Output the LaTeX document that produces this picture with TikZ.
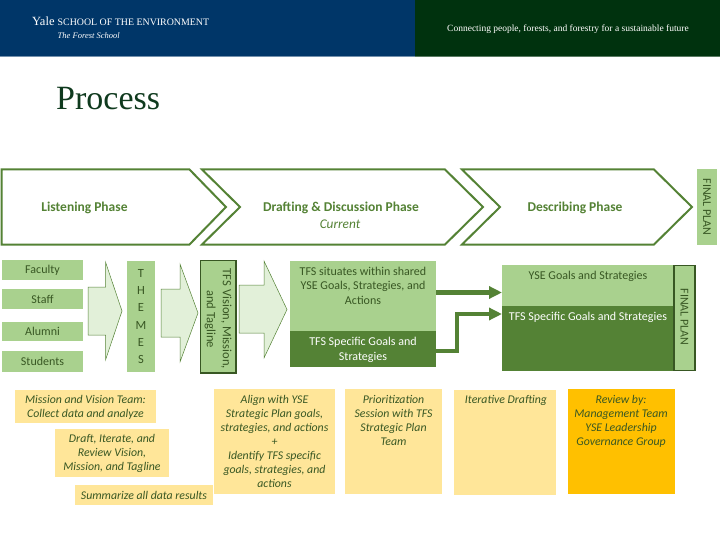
\documentclass[tikz,border=0pt]{standalone}
\usepackage{fontspec}
\setmainfont{Carlito}
\newfontfamily\headfont{Liberation Serif}
\usetikzlibrary{arrows.meta}
\definecolor{navy}{HTML}{003668}
\definecolor{forest}{HTML}{00320E}
\definecolor{titlegreen}{HTML}{0F3A1E}
\definecolor{leaf}{HTML}{A9D18E}
\definecolor{moss}{HTML}{548235}
\definecolor{mossdark}{HTML}{385723}
\definecolor{pale}{HTML}{E2F0D9}
\definecolor{sand}{HTML}{FFE699}
\definecolor{amber}{HTML}{FFC000}
% Box given by its corners: style, name, x1, y1, x2, y2, text
\newcommand{\cornerbox}[7]{%
  \node[#1,minimum width={(#5-#3)*1pt},minimum height={(#6-#4)*1pt}]
    (#2) at ({(#3+#5)/2},{(#4+#6)/2}) {#7};}
% Phase chevron: left x, shoulder x, tip x, optional notch segment
\newcommand{\chevron}[4]{%
  \draw[phase] (#1,169.5) -- (#2,169.5) -- (#3,207) -- (#2,244.5) -- (#1,244.5)
    #4 -- cycle;}
% Block arrow: tail x, tail top, tail bottom, head x, head top, head bottom, tip x
\newcommand{\blockarrow}[7]{%
  \draw[block] (#1,#2) -- (#4,#2) -- (#4,#5) -- (#7,{(#5+#6)/2}) -- (#4,#6)
    -- (#4,#3) -- (#1,#3) -- cycle;}
\tikzset{
  x=1pt,y=-1pt,
  box/.style={inner sep=0pt,outer sep=0pt,text=mossdark,font=\fontsize{12}{14.8}\selectfont,align=center},
  tag/.style={box,fill=leaf},
  framed/.style={box,fill=leaf,draw=mossdark,line width=1.5pt},
  darkbox/.style={box,fill=moss,text=white},
  note/.style={box,fill=sand,font=\fontsize{11.8}{14}\selectfont\itshape},
  hotnote/.style={note,fill=amber},
  captext/.style={inner sep=0pt,text=mossdark,font=\fontsize{12}{14.8}\selectfont,align=center},
  notecap/.style={inner sep=0pt,text=mossdark,font=\fontsize{11.8}{14}\selectfont\itshape,align=center},
  whitecap/.style={captext,text=white},
  phase/.style={draw=moss,line width=2pt,fill=white,miter limit=10},
  phasetext/.style={inner sep=0pt,text=moss,font=\fontsize{13.5}{15}\selectfont\bfseries,align=center},
  block/.style={draw=moss,line width=0.5pt,fill=pale},
  link/.style={draw=moss,line width=4.5pt,-{Triangle[length=13pt,width=12pt]}},
  bandtext/.style={inner sep=0pt,text=white},
}
\begin{document}
\begin{tikzpicture}
\useasboundingbox (0,0) rectangle (720,540);
% Header bands
\fill[navy] (0,0) rectangle (415,56);
\fill[forest] (415,0) rectangle (720,56);
\fill[navy!55!white] (0,56) rectangle (415,57);
\fill[forest!65!white] (415,56) rectangle (720,57);
\node[bandtext,anchor=base west] (school) at (32,25.5) {\headfont\fontsize{12.5}{14}\selectfont Yale \fontsize{9.9}{14}\selectfont SCHOOL OF THE ENVIRONMENT};
\node[bandtext,anchor=base west] (forestschool) at (57.5,38.5) {\headfont\fontsize{8.5}{12}\selectfont\itshape The Forest School};
\node[bandtext,anchor=base west] (tagline) at (447,31.5) {\headfont\fontsize{9.5}{12}\selectfont Connecting people, forests, and forestry for a sustainable future};
\node[inner sep=0pt,anchor=base west,text=titlegreen,font=\headfont\fontsize{34}{38}\selectfont] (title) at (56,110) {Process};

% Phase chevrons
\chevron{1.5}{189.5}{226}{}
\chevron{202}{445}{483}{-- (240,207)}
\chevron{462}{654}{692}{-- (500,207)}
\node[phasetext] (listening) at (84.5,207.5) {Listening Phase};
\node[phasetext] (drafting) at (341,207.5) {Drafting \& Discussion Phase};
\node[inner sep=0pt,text=moss,font=\fontsize{13.3}{15}\selectfont\itshape] (current) at (340,224) {Current};
\node[phasetext] (describing) at (575,207.5) {Describing Phase};
\cornerbox{tag}{finaltop}{697}{169}{717}{244.5}{}
\node[captext,rotate=-90] (finaltoptext) at (707,207) {FINAL PLAN};

% Constituent groups
\cornerbox{tag}{faculty}{2}{260}{83}{280}{\raisebox{-1pt}{Faculty}}
\cornerbox{tag}{staff}{2}{289}{83}{309}{\raisebox{-1pt}{Staff}}
\cornerbox{tag}{alumni}{2}{322}{83}{341}{\raisebox{-1pt}{Alumni}}
\cornerbox{tag}{students}{2}{351}{83}{372}{\raisebox{-1pt}{Students}}
\blockarrow{88}{287}{335}{105.5}{262}{360}{122}
\node[tag,minimum width=28.5pt,minimum height=111pt,font=\fontsize{12.5}{17.3}\selectfont] (themes) at (141,316.5) {T\\H\\E\\M\\E\\S};
\blockarrow{161}{289}{337}{180}{264}{362}{198}
\cornerbox{framed}{vision}{200.5}{260.5}{236}{373}{}
\node[captext,rotate=-90,font=\fontsize{12.6}{16}\selectfont] (visiontext) at (218,319) {TFS Vision, Mission,\\and Tagline};
\blockarrow{239}{285}{333}{264}{261}{358}{287}

% Shared and specific goals
\cornerbox{tag}{situates}{290}{261}{436}{331}{}
\node[captext,anchor=north] (situatestext) at (363,266.5) {TFS situates within shared\\YSE Goals, Strategies, and\\Actions};
\cornerbox{darkbox}{specific}{290}{331}{436}{366.5}{}
\node[whitecap] (specifictext) at (363,349.5) {TFS Specific Goals and\\Strategies};
\cornerbox{tag}{yse}{502}{265}{674}{306}{}
\node[captext,anchor=north] (ysetext) at (588,271) {YSE Goals and Strategies};
\cornerbox{darkbox}{tfsgoals}{502}{306}{674}{371}{}
\node[whitecap,anchor=north] (tfsgoalstext) at (588,311.5) {TFS Specific Goals and Strategies};
\cornerbox{framed}{finalside}{674}{265.5}{695}{370.5}{}
\node[captext,rotate=-90] (finalsidetext) at (684.5,317) {FINAL PLAN};

% Links between the goal blocks
\coordinate (sharedout) at (436,292.5);
\coordinate (sharedin) at (502,292.5);
\coordinate (specificout) at (436,351);
\coordinate (specificin) at (502,314);
\draw[link] (sharedout) -- (sharedin);
\draw[link] (specificout) -- (457,351) -- (457,314) -- (specificin);

% Activities under each phase
\cornerbox{note}{mission}{15}{390}{156}{423}{}
\node[notecap] (missiontext) at (85.5,407.5) {Mission and Vision Team:\\Collect data and analyze};
\cornerbox{note}{draft}{55}{429}{169}{477}{}
\node[notecap] (drafttext) at (112,453.5) {Draft, Iterate, and\\Review Vision,\\Mission, and Tagline};
\cornerbox{note}{summarize}{75}{485}{213}{505}{Summarize all data results}
\cornerbox{note}{align}{214}{389}{335}{494}{Align with YSE\\Strategic Plan goals,\\strategies, and actions\\+\\Identify TFS specific\\goals, strategies, and\\actions}
\cornerbox{note}{prioritize}{345}{389}{442}{494}{}
\node[notecap,anchor=north] (prioritizetext) at (393.5,395.5) {Prioritization\\Session with TFS\\Strategic Plan\\Team};
\cornerbox{note}{iterative}{454}{390}{556}{495}{}
\node[notecap,anchor=north] (iterativetext) at (506,395.5) {Iterative Drafting};
\cornerbox{hotnote}{review}{568}{389}{675}{494}{}
\node[notecap,anchor=north] (reviewtext) at (621,395.5) {Review by:\\Management Team\\YSE Leadership\\Governance Group};
\end{tikzpicture}
\end{document}
